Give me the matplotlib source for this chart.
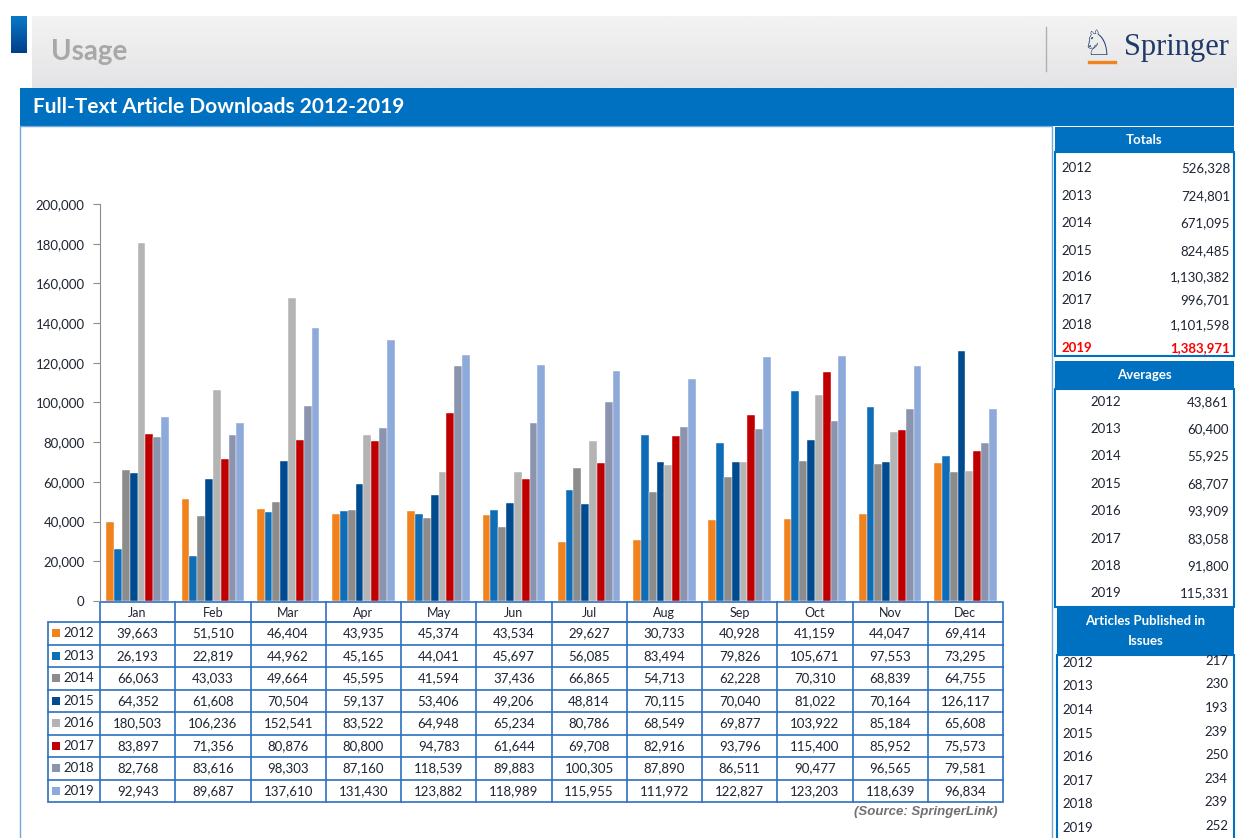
import matplotlib.pyplot as plt
import matplotlib.patches as patches
import numpy as np

plt.rcParams['font.family'] = ['Lato', 'DejaVu Sans']

# data
months = ['Jan', 'Feb', 'Mar', 'Apr', 'May', 'Jun', 'Jul', 'Aug', 'Sep', 'Oct', 'Nov', 'Dec']
years = ['2012', '2013', '2014', '2015', '2016', '2017', '2018', '2019']
d2012 = [39663, 51510, 46404, 43935, 45374, 43534, 29627, 30733, 40928, 41159, 44047, 69414]
d2013 = [26193, 22819, 44962, 45165, 44041, 45697, 56085, 83494, 79826, 105671, 97553, 73295]
d2014 = [66063, 43033, 49664, 45595, 41594, 37436, 66865, 54713, 62228, 70310, 68839, 64755]
d2015 = [64352, 61608, 70504, 59137, 53406, 49206, 48814, 70115, 70040, 81022, 70164, 126117]
d2016 = [180503, 106236, 152541, 83522, 64948, 65234, 80786, 68549, 69877, 103922, 85184, 65608]
d2017 = [83897, 71356, 80876, 80800, 94783, 61644, 69708, 82916, 93796, 115400, 85952, 75573]
d2018 = [82768, 83616, 98303, 87160, 118539, 89883, 100305, 87890, 86511, 90477, 96565, 79581]
d2019 = [92943, 89687, 137610, 131430, 123882, 118989, 115955, 111972, 122827, 123203, 118639, 96834]
series = [d2012, d2013, d2014, d2015, d2016, d2017, d2018, d2019]
totals = ['526,328', '724,801', '671,095', '824,485', '1,130,382', '996,701', '1,101,598', '1,383,971']
averages = ['43,861', '60,400', '55,925', '68,707', '93,909', '83,058', '91,800', '115,331']
articles = [217, 230, 193, 239, 250, 234, 239, 252]

colors = ['#f0831e', '#0f6cb6', '#8c8c8c', '#004a8f', '#b4b4b4', '#c00000', '#8a94ae', '#8eaadb']
blue = '#0070c0'
line_blue = '#2e6fc0'
txt = '#1e2433'

W, H = 1237, 838
fig = plt.figure(figsize=(W / 100, H / 100), dpi=100)

# background layer in pixel coords
bg = fig.add_axes([0, 0, 1, 1])
bg.set_xlim(0, W)
bg.set_ylim(H, 0)
bg.axis('off')
bg.set_zorder(0)

# header band with gradient
grad = np.linspace(0, 1, 50).reshape(-1, 1)
bg.imshow(grad, extent=(32, W, 88, 16), cmap=plt.matplotlib.colors.LinearSegmentedColormap.from_list('g', ['#f3f3f3', '#e4e4e6']), aspect='auto', zorder=1)
bg.imshow(grad, extent=(11, 27, 53, 16), cmap=plt.matplotlib.colors.LinearSegmentedColormap.from_list('b', ['#0a78c8', '#003f8a']), aspect='auto', zorder=2)
bg.text(51, 52, 'Usage', fontsize=20, fontweight='bold', color='#a8a8a8', va='center', ha='left', zorder=3)
bg.plot([1046, 1046], [27, 71], color='#b0b0b0', lw=1, zorder=3)
bg.text(1081, 45, '\u2658', fontsize=25, color='#1f3a68', va='center', ha='left', family='DejaVu Sans', zorder=3)
bg.plot([1089, 1115], [62, 62], color='#f0831e', lw=2.4, zorder=3)
bg.text(1124, 48, 'Springer', fontsize=22, color='#1f3a68', va='center', ha='left', family='Liberation Serif', zorder=3)

# title bar
bg.add_patch(patches.Rectangle((20, 88), 1214, 38, facecolor=blue, edgecolor='none', zorder=2))
bg.text(33, 107, 'Full-Text Article Downloads 2012-2019', fontsize=15, fontweight='bold', color='white', va='center', ha='left', zorder=3)

# chart panel
bg.add_patch(patches.Rectangle((20, 126), 1032, 720, facecolor='white', edgecolor='#6fa8dc', lw=1, zorder=2))

# side panels
def panel(x0, x1, y0, yh, y1, title_lines):
    bg.add_patch(patches.Rectangle((x0, y0), x1 - x0, yh - y0, facecolor=blue, edgecolor='none', zorder=2))
    bg.add_patch(patches.Rectangle((x0, yh), x1 - x0, y1 - yh, facecolor='white', edgecolor=blue, lw=1.5, zorder=2))
    n = len(title_lines)
    for i, t in enumerate(title_lines):
        yy = (y0 + yh) / 2 + (i - (n - 1) / 2) * 20
        bg.text((x0 + x1) / 2, yy, t, fontsize=9.5, fontweight='bold', color='white', ha='center', va='center', zorder=3)

panel(1055, 1234, 127, 152, 356, ['Totals'])
tot_y = [168, 196, 223, 251, 277, 300, 325, 348]
for i in range(8):
    c = '#ff0000' if i == 7 else txt
    fw = 'bold' if i == 7 else 'normal'
    bg.text(1061, tot_y[i], years[i], fontsize=9.5, color=c, fontweight=fw, ha='left', va='center', zorder=3)
    bg.text(1230, tot_y[i], totals[i], fontsize=9.5, color=c, fontweight=fw, ha='right', va='center', zorder=3)

panel(1055, 1234, 361, 389, 607, ['Averages'])
avg_y = [402, 429, 456, 484, 511, 539, 566, 593]
for i in range(8):
    bg.text(1090, avg_y[i], years[i], fontsize=9.5, color=txt, ha='left', va='center', zorder=3)
    bg.text(1229, avg_y[i], averages[i], fontsize=9.5, color=txt, ha='right', va='center', zorder=3)

panel(1057, 1234, 607, 655, 850, ['Articles Published in', 'Issues'])
art_y = [663, 686, 710, 734, 757, 781, 804, 828]
for i in range(8):
    bg.text(1062, art_y[i], years[i], fontsize=9.5, color=txt, ha='left', va='center', zorder=3)
    bg.text(1228, art_y[i] - 2, str(articles[i]), fontsize=9.5, color=txt, ha='right', va='center', zorder=3)

# data table
x_left, x_right = 100, 1003
col_w = (x_right - x_left) / 12
hdr_top, hdr_bot = 602, 622
row_h = 22.5
leg_left = 48
bg.add_patch(patches.Rectangle((x_left, hdr_top), x_right - x_left, hdr_bot - hdr_top, facecolor='none', edgecolor=line_blue, lw=1.2, zorder=4))
for j in range(1, 12):
    xx = x_left + j * col_w
    bg.plot([xx, xx], [hdr_top, hdr_bot + 8 * row_h], color=line_blue, lw=1.2, zorder=4)
bg.add_patch(patches.Rectangle((leg_left, hdr_bot), x_right - leg_left, 8 * row_h, facecolor='none', edgecolor=line_blue, lw=1.2, zorder=4))
bg.plot([x_left, x_left], [hdr_bot, hdr_bot + 8 * row_h], color=line_blue, lw=1.2, zorder=4)
for i in range(1, 8):
    yy = hdr_bot + i * row_h
    bg.plot([leg_left, x_right], [yy, yy], color=line_blue, lw=1.2, zorder=4)
for j, m in enumerate(months):
    bg.text(x_left + (j + 0.5) * col_w, (hdr_top + hdr_bot) / 2 + 1, m, fontsize=9, color=txt, ha='center', va='center', zorder=5)
for i, s in enumerate(series):
    yc = hdr_bot + (i + 0.5) * row_h
    bg.add_patch(patches.Rectangle((52, yc - 4), 8, 8, facecolor=colors[i], edgecolor='none', zorder=5))
    bg.text(63, yc, years[i], fontsize=9.5, color=txt, ha='left', va='center', zorder=5)
    for j, v in enumerate(s):
        bg.text(x_left + (j + 0.5) * col_w, yc, f'{v:,}', fontsize=9.5, color=txt, ha='center', va='center', zorder=5)

bg.text(998, 812, '(Source: SpringerLink)', fontsize=9.5, fontweight='bold', fontstyle='italic', color='#707070', ha='right', va='center', family='Liberation Sans', zorder=5)

# bar chart
ax = fig.add_axes([x_left / W, (H - 601) / H, (x_right - x_left) / W, 397 / H])
ax.set_zorder(1)
ax.patch.set_alpha(0)
x = np.arange(len(months))
bw = 0.104
for k, s in enumerate(series):
    ax.bar(x + (k - 3.5) * bw, s, width=bw, color=colors[k], edgecolor='white', linewidth=0.3)
ax.set_xlim(-0.5, 11.5)
ax.set_ylim(0, 200000)
ax.set_yticks(np.arange(0, 200001, 20000))
ax.set_yticklabels([f'{v:,}' for v in range(0, 200001, 20000)])
ax.tick_params(axis='y', length=5, color='#8c8c8c', labelsize=9.5, labelcolor=txt, pad=6)
ax.set_xticks([])
for sp in ['top', 'right', 'bottom']:
    ax.spines[sp].set_visible(False)
ax.spines['left'].set_color('#8c8c8c')

fig.savefig('out.png', dpi=100)
